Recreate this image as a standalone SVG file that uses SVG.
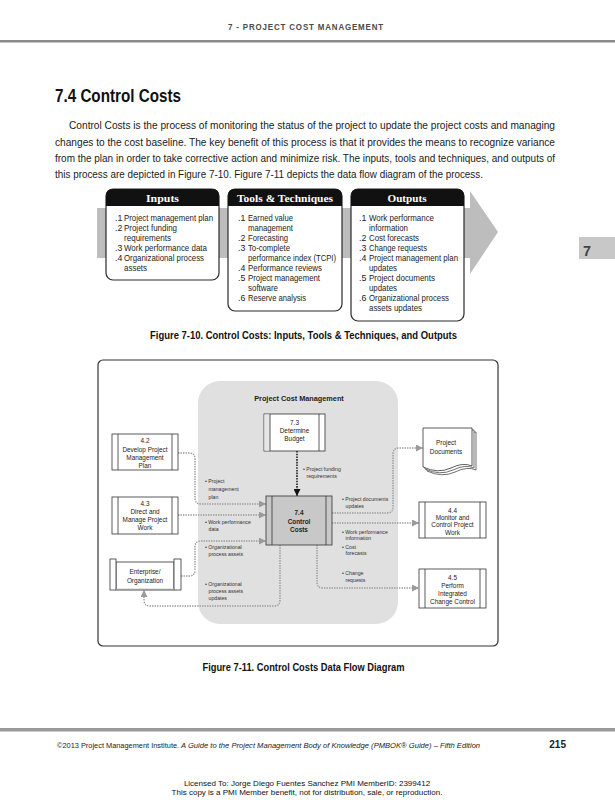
<svg xmlns="http://www.w3.org/2000/svg" width="615" height="800" viewBox="0 0 615 800">
<style>
  .n { font-family: "Liberation Sans", Arial, sans-serif; }
  .s { font-family: "Liberation Sans", Arial, sans-serif; }
  .body { font-size: 10.2px; fill: #1a1a1a; }
  .li { font-size: 8.8px; fill: #222; }
  .hd { font-family: "Liberation Serif", "DejaVu Serif", serif; font-weight: bold; font-size: 10px; fill: #fff; text-anchor: middle; }
  .cap { font-size: 10.5px; font-weight: bold; fill: #111; }
  .pt { font-size: 6.4px; fill: #222; text-anchor: middle; }
  .lb { font-size: 5.2px; fill: #333; }
  .ibox { fill: #fff; stroke: #2a2a2a; stroke-width: 1.2; }
  .pbox { fill: #fff; stroke: #333; stroke-width: 0.8; }
  .pin { stroke: #333; stroke-width: 0.8; }
  .flow { fill: none; stroke: #9a9a9a; stroke-width: 1.4; stroke-dasharray: 1.4 1.1; }
  .flowk { fill: none; stroke: #111; stroke-width: 1.5; stroke-dasharray: 1.6 1.1; }
</style>
<defs>
  <marker id="ag" viewBox="0 0 10 10" refX="10" refY="5" markerWidth="7" markerHeight="7" markerUnits="userSpaceOnUse" orient="auto">
    <path d="M0,0 L10,5 L0,10 Z" fill="#9a9a9a"/>
  </marker>
  <marker id="ak" viewBox="0 0 10 10" refX="10" refY="5" markerWidth="7" markerHeight="7" markerUnits="userSpaceOnUse" orient="auto">
    <path d="M0,0 L10,5 L0,10 Z" fill="#111"/>
  </marker>
</defs>
<rect width="615" height="800" fill="#fff"/>

<!-- page header -->
<text class="n" x="306" y="30" text-anchor="middle" font-size="9.5" font-weight="bold" fill="#4a4a4a" letter-spacing="1" textLength="156" lengthAdjust="spacingAndGlyphs">7 - PROJECT COST MANAGEMENT</text>
<rect x="0" y="40" width="615" height="2.5" fill="#8a8a8a"/>

<!-- section title and paragraph -->
<text class="n" x="55" y="102" font-size="17.5" font-weight="bold" fill="#111" textLength="126" lengthAdjust="spacingAndGlyphs">7.4 Control Costs</text>
<text class="n body" x="69" y="129" textLength="486" lengthAdjust="spacingAndGlyphs">Control Costs is the process of monitoring the status of the project to update the project costs and managing</text>
<text class="n body" x="55" y="145.5" textLength="500" lengthAdjust="spacingAndGlyphs">changes to the cost baseline. The key benefit of this process is that it provides the means to recognize variance</text>
<text class="n body" x="55" y="161.5" textLength="500" lengthAdjust="spacingAndGlyphs">from the plan in order to take corrective action and minimize risk. The inputs, tools and techniques, and outputs of</text>
<text class="n body" x="55" y="177.5" textLength="428" lengthAdjust="spacingAndGlyphs">this process are depicted in Figure 7-10. Figure 7-11 depicts the data flow diagram of the process.</text>

<!-- side tab -->
<rect x="579" y="237" width="36" height="22" fill="#c8c8c8"/>
<text class="n" x="583" y="256" font-size="15" font-weight="bold" fill="#444" textLength="8" lengthAdjust="spacingAndGlyphs">7</text>

<!-- Figure 7-10 ITTO -->
<g id="itto-arrow">
  <path d="M97,208 H470 V191 L498,232 L470,274 V258 H97 Z" fill="#bdbdbd"/>
</g>
<g id="inputs">
  <rect class="ibox" x="106" y="189" width="113" height="91" rx="7"/>
  <path d="M106,206 V196 Q106,189 113,189 H212 Q219,189 219,196 V206 Z" fill="#111"/>
  <text class="hd" x="162.5" y="202" textLength="33" lengthAdjust="spacingAndGlyphs">Inputs</text>
  <g class="n li">
    <text x="115" y="221">.1</text><text x="124" y="221" textLength="89" lengthAdjust="spacingAndGlyphs">Project management plan</text>
    <text x="115" y="231">.2</text><text x="124" y="231" textLength="53" lengthAdjust="spacingAndGlyphs">Project funding</text>
    <text x="124" y="241" textLength="47" lengthAdjust="spacingAndGlyphs">requirements</text>
    <text x="115" y="251">.3</text><text x="124" y="251" textLength="83" lengthAdjust="spacingAndGlyphs">Work performance data</text>
    <text x="115" y="261">.4</text><text x="124" y="261" textLength="80" lengthAdjust="spacingAndGlyphs">Organizational process</text>
    <text x="124" y="271" textLength="23" lengthAdjust="spacingAndGlyphs">assets</text>
  </g>
</g>
<g id="tools">
  <rect class="ibox" x="228" y="189" width="114" height="122" rx="7"/>
  <path d="M228,206 V196 Q228,189 235,189 H335 Q342,189 342,196 V206 Z" fill="#111"/>
  <text class="hd" x="285" y="202" textLength="96" lengthAdjust="spacingAndGlyphs">Tools &amp; Techniques</text>
  <g class="n li">
    <text x="238" y="221">.1</text><text x="248" y="221" textLength="45" lengthAdjust="spacingAndGlyphs">Earned value</text>
    <text x="248" y="231" textLength="45" lengthAdjust="spacingAndGlyphs">management</text>
    <text x="238" y="241">.2</text><text x="248" y="241" textLength="40" lengthAdjust="spacingAndGlyphs">Forecasting</text>
    <text x="238" y="251">.3</text><text x="248" y="251" textLength="42" lengthAdjust="spacingAndGlyphs">To-complete</text>
    <text x="248" y="261" textLength="88" lengthAdjust="spacingAndGlyphs">performance index (TCPI)</text>
    <text x="238" y="271">.4</text><text x="248" y="271" textLength="74" lengthAdjust="spacingAndGlyphs">Performance reviews</text>
    <text x="238" y="281">.5</text><text x="248" y="281" textLength="72" lengthAdjust="spacingAndGlyphs">Project management</text>
    <text x="248" y="291" textLength="30" lengthAdjust="spacingAndGlyphs">software</text>
    <text x="238" y="301">.6</text><text x="248" y="301" textLength="58" lengthAdjust="spacingAndGlyphs">Reserve analysis</text>
  </g>
</g>
<g id="outputs">
  <rect class="ibox" x="351" y="189" width="113" height="132" rx="7"/>
  <path d="M351,206 V196 Q351,189 358,189 H457 Q464,189 464,196 V206 Z" fill="#111"/>
  <text class="hd" x="407" y="202" textLength="39" lengthAdjust="spacingAndGlyphs">Outputs</text>
  <g class="n li">
    <text x="359" y="221">.1</text><text x="369" y="221" textLength="65" lengthAdjust="spacingAndGlyphs">Work performance</text>
    <text x="369" y="231" textLength="39" lengthAdjust="spacingAndGlyphs">information</text>
    <text x="359" y="241">.2</text><text x="369" y="241" textLength="50" lengthAdjust="spacingAndGlyphs">Cost forecasts</text>
    <text x="359" y="251">.3</text><text x="369" y="251" textLength="58" lengthAdjust="spacingAndGlyphs">Change requests</text>
    <text x="359" y="261">.4</text><text x="369" y="261" textLength="89" lengthAdjust="spacingAndGlyphs">Project management plan</text>
    <text x="369" y="271" textLength="28" lengthAdjust="spacingAndGlyphs">updates</text>
    <text x="359" y="281">.5</text><text x="369" y="281" textLength="66" lengthAdjust="spacingAndGlyphs">Project documents</text>
    <text x="369" y="291" textLength="28" lengthAdjust="spacingAndGlyphs">updates</text>
    <text x="359" y="301">.6</text><text x="369" y="301" textLength="80" lengthAdjust="spacingAndGlyphs">Organizational process</text>
    <text x="369" y="311" textLength="53" lengthAdjust="spacingAndGlyphs">assets updates</text>
  </g>
</g>
<text class="n cap" x="303.5" y="339" text-anchor="middle" textLength="307" lengthAdjust="spacingAndGlyphs">Figure 7-10. Control Costs: Inputs, Tools &amp; Techniques, and Outputs</text>

<!-- Figure 7-11 data flow -->
<rect x="98" y="360" width="400" height="286" rx="5" fill="#fff" stroke="#333" stroke-width="1.2"/>
<g id="pcm-area">
  <rect x="198" y="381" width="200" height="243" rx="22" fill="#e0e0e0"/>
  <text class="s" x="299" y="401" text-anchor="middle" font-size="7.3" font-weight="bold" fill="#222">Project Cost Management</text>
</g>

<g id="connectors">
  <path class="flowk" d="M297,451 V496" marker-end="url(#ak)"/>
  <path class="flow" d="M178,453 H189 Q195,453 195,459 V498 Q195,504 201,504 H266" marker-end="url(#ag)"/>
  <path class="flow" d="M178,515 H266" marker-end="url(#ag)"/>
  <path class="flow" d="M181,576 H189 Q195,576 195,570 V547 Q195,541 201,541 H266" marker-end="url(#ag)"/>
  <path class="flow" d="M280,545 V600 Q280,606 274,606 H150 Q144,606 144,600 V590" marker-end="url(#ag)"/>
  <path class="flow" d="M332,513 H387 Q393,513 393,507 V454 Q393,448 399,448 H423" marker-end="url(#ag)"/>
  <path class="flow" d="M332,523 H419" marker-end="url(#ag)"/>
  <path class="flow" d="M317,545 V582 Q317,588 323,588 H419" marker-end="url(#ag)"/>
  <g class="n lb">
    <text x="303" y="471">• Project funding</text>
    <text x="306.5" y="478">requirements</text>
    <text x="205" y="483">• Project</text>
    <text x="208.5" y="491">management</text>
    <text x="208.5" y="499">plan</text>
    <text x="205" y="524">• Work performance</text>
    <text x="208.5" y="531">data</text>
    <text x="205" y="549">• Organizational</text>
    <text x="208.5" y="556">process assets</text>
    <text x="205" y="586">• Organizational</text>
    <text x="208.5" y="593">process assets</text>
    <text x="208.5" y="600">updates</text>
    <text x="342" y="501">• Project documents</text>
    <text x="345.5" y="507.5">updates</text>
    <text x="342" y="534">• Work performance</text>
    <text x="345.5" y="540">information</text>
    <text x="342" y="548.5">• Cost</text>
    <text x="345.5" y="555">forecasts</text>
    <text x="342" y="575">• Change</text>
    <text x="345.5" y="582">requests</text>
  </g>
</g>

<g id="p73">
  <rect class="pbox" x="264" y="414" width="61" height="37"/>
  <rect x="264.4" y="414.4" width="5.6" height="36.2" fill="#e6e6e6"/>
  <line class="pin" x1="270" y1="414" x2="270" y2="451"/>
  <line class="pin" x1="319" y1="414" x2="319" y2="451"/>
  <g class="s pt"><text x="294.5" y="424.5">7.3</text><text x="294.5" y="432.5">Determine</text><text x="294.5" y="440.5">Budget</text></g>
</g>
<g id="p74">
  <rect x="266" y="496" width="66" height="49" fill="#c8c8c8" stroke="#333" stroke-width="0.8"/>
  <line class="pin" x1="272" y1="496" x2="272" y2="545"/>
  <line class="pin" x1="326" y1="496" x2="326" y2="545"/>
  <g class="s pt" font-weight="bold"><text x="299" y="515">7.4</text><text x="299" y="523.5">Control</text><text x="299" y="531.5">Costs</text></g>
</g>
<g id="p42">
  <rect class="pbox" x="112" y="434" width="66" height="36"/>
  <line class="pin" x1="118" y1="434" x2="118" y2="470"/>
  <line class="pin" x1="172" y1="434" x2="172" y2="470"/>
  <g class="s pt"><text x="145" y="443">4.2</text><text x="145" y="451.5">Develop Project</text><text x="145" y="460">Management</text><text x="145" y="468">Plan</text></g>
</g>
<g id="p43">
  <rect class="pbox" x="112" y="497" width="66" height="37"/>
  <line class="pin" x1="118" y1="497" x2="118" y2="534"/>
  <line class="pin" x1="172" y1="497" x2="172" y2="534"/>
  <g class="s pt"><text x="145" y="505.5">4.3</text><text x="145" y="513.5">Direct and</text><text x="145" y="521.5">Manage Project</text><text x="145" y="529.5">Work</text></g>
</g>
<g id="enterprise">
  <rect class="pbox" x="116" y="562" width="58" height="28"/>
  <rect class="pbox" x="110" y="559" width="6" height="31"/>
  <rect class="pbox" x="174" y="559" width="7" height="31"/>
  <line x1="116" y1="589.5" x2="174" y2="589.5" stroke="#9a9a9a" stroke-width="1.6"/>
  <g class="s pt"><text x="145" y="573.5">Enterprise/</text><text x="145" y="582.5">Organization</text></g>
</g>
<g id="projdocs">
  <path d="M427,432 H476 V470 Q467,466 455,472 Q442,478 427,471 Z" fill="#fff" stroke="#333" stroke-width="0.7"/>
  <path d="M425,430 H474 V468 Q465,464 453,470 Q440,476 425,469 Z" fill="#fff" stroke="#333" stroke-width="0.7"/>
  <path d="M423,428 H472 V466 Q463,462 451,468 Q438,474 423,467 Z" fill="#fff" stroke="#333" stroke-width="0.8"/>
  <g class="s pt"><text x="446" y="445">Project</text><text x="446" y="453.5">Documents</text></g>
</g>
<g id="p44">
  <rect class="pbox" x="419" y="502" width="67" height="36"/>
  <line class="pin" x1="425" y1="502" x2="425" y2="538"/>
  <line class="pin" x1="480" y1="502" x2="480" y2="538"/>
  <g class="s pt"><text x="452.5" y="512.5">4.4</text><text x="452.5" y="519.5">Monitor and</text><text x="452.5" y="526.5">Control Project</text><text x="452.5" y="534.5">Work</text></g>
</g>
<g id="p45">
  <rect class="pbox" x="419" y="569" width="67" height="39"/>
  <line class="pin" x1="425" y1="569" x2="425" y2="608"/>
  <line class="pin" x1="480" y1="569" x2="480" y2="608"/>
  <g class="s pt"><text x="452.5" y="579.5">4.5</text><text x="452.5" y="587.5">Perform</text><text x="452.5" y="595.5">Integrated</text><text x="452.5" y="603.5">Change Control</text></g>
</g>

<text class="n cap" x="303.5" y="671" text-anchor="middle" textLength="202" lengthAdjust="spacingAndGlyphs">Figure 7-11. Control Costs Data Flow Diagram</text>

<!-- footer -->
<rect x="0" y="728" width="615" height="3.5" fill="#9a9a9a"/>
<text class="n" x="57" y="748" font-size="7.4" fill="#222">©2013 Project Management Institute.</text>
<text class="n" x="181" y="748" font-size="7.6" font-style="italic" fill="#222">A Guide to the Project Management Body of Knowledge (PMBOK® Guide) – Fifth Edition</text>
<text class="n" x="566" y="748" text-anchor="end" font-size="10" font-weight="bold" fill="#222">215</text>
<text class="s" x="307" y="786" text-anchor="middle" font-size="8" fill="#111">Licensed To: Jorge Diego Fuentes Sanchez PMI MemberID: 2399412</text>
<text class="s" x="307" y="794.5" text-anchor="middle" font-size="8" fill="#111">This copy is a PMI Member benefit, not for distribution, sale, or reproduction.</text>
</svg>
